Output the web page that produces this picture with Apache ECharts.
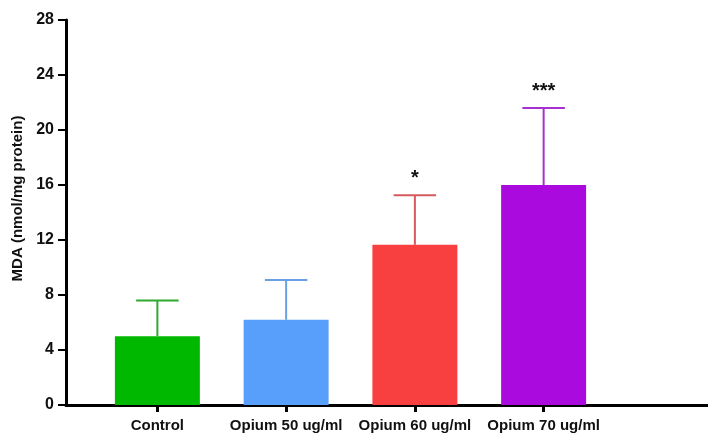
<!DOCTYPE html>
<html>
<head>
<meta charset="utf-8">
<script src="https://cdn.jsdelivr.net/npm/echarts@6/dist/echarts.min.js"></script>
<style>html,body{margin:0;padding:0;background:#fff}#c{width:708px;height:436px}</style>
</head>
<body>
<div id="c"></div>
<script>
var categories = ['Control', 'Opium 50 ug/ml', 'Opium 60 ug/ml', 'Opium 70 ug/ml'];
var means = [5.0, 6.2, 11.65, 16.0];
var upper = [7.6, 9.1, 15.25, 21.6];
var significance = ['', '', '*', '***'];
var barColors = ['#00B800', '#579FFA', '#F84040', '#AA0ADE'];
var errColors = ['#2FAA2F', '#6A9FE4', '#D45A5E', '#A830D0'];
var yTicks = { min: 0, max: 28, interval: 4 };
var yName = 'MDA (nmol/mg protein)';

var chart = echarts.init(document.getElementById('c'));
var font = 'Liberation Sans, Arial, sans-serif';
chart.setOption({
  animation: false,
  grid: [
    { left: 66, right: 0, top: 20, bottom: 31 },
    { left: 93, width: 515, top: 20, bottom: 31 }
  ],
  xAxis: [
    { gridIndex: 0, type: 'value', min: 0, max: 1,
      axisLine: { show: true, lineStyle: { color: '#000', width: 3 } },
      axisTick: { show: false }, axisLabel: { show: false }, splitLine: { show: false } },
    { gridIndex: 1, type: 'category', data: categories,
      axisLine: { show: false },
      axisTick: { show: true, alignWithLabel: true, length: 7, lineStyle: { color: '#000', width: 3 } },
      axisLabel: { interval: 0, color: '#111', fontFamily: font, fontWeight: 'bold', fontSize: 15, margin: 13 } }
  ],
  yAxis: [
    { gridIndex: 0, type: 'value', min: yTicks.min, max: yTicks.max, interval: yTicks.interval,
      name: yName, nameLocation: 'middle', nameGap: 36,
      nameTextStyle: { color: '#111', fontFamily: font, fontWeight: 'bold', fontSize: 15, padding: [0, 0, 0, 28] },
      axisLine: { show: true, lineStyle: { color: '#000', width: 3 } },
      axisTick: { show: true, length: 8, lineStyle: { color: '#000', width: 2 } },
      axisLabel: { color: '#111', fontFamily: font, fontWeight: 'bold', fontSize: 16, margin: 12 },
      splitLine: { show: false } },
    { gridIndex: 1, type: 'value', min: yTicks.min, max: yTicks.max, show: false }
  ],
  series: [
    { type: 'bar', xAxisIndex: 1, yAxisIndex: 1, barWidth: '66%',
      data: means.map(function (v, i) { return { value: v, itemStyle: { color: barColors[i] } }; }) },
    { type: 'custom', xAxisIndex: 1, yAxisIndex: 1, z: 3,
      data: means.map(function (v, i) { return [i, v, upper[i]]; }),
      renderItem: function (params, api) {
        var i = api.value(0);
        var top = api.coord([i, api.value(2)]);
        var base = api.coord([i, api.value(1)]);
        var half = api.size([1, 0])[0] * 0.165;
        var col = errColors[i];
        return {
          type: 'group',
          children: [
            { type: 'line', shape: { x1: top[0], y1: base[1], x2: top[0], y2: top[1] }, style: { stroke: col, lineWidth: 2 } },
            { type: 'line', shape: { x1: top[0] - half, y1: top[1], x2: top[0] + half, y2: top[1] }, style: { stroke: col, lineWidth: 2 } },
            { type: 'text', x: top[0], y: top[1] - 7,
              style: { text: significance[i], textAlign: 'center', textVerticalAlign: 'bottom', fill: '#111', font: 'bold 20px ' + font } }
          ]
        };
      } }
  ]
});
</script>
</body>
</html>
